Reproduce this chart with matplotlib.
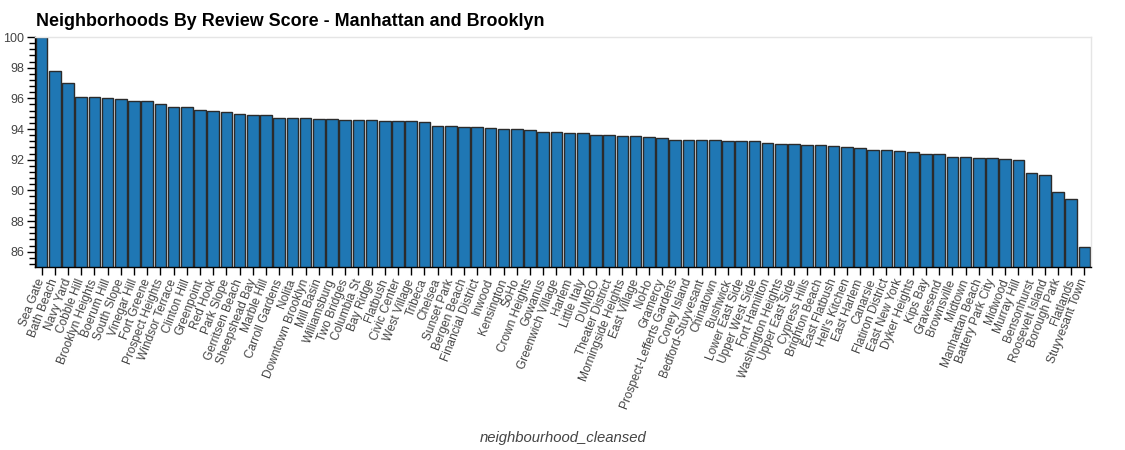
import matplotlib
matplotlib.use('Agg')
import matplotlib.pyplot as plt
from matplotlib.ticker import MultipleLocator
import numpy as np

# Neighbourhoods, sorted by mean review score
neighbourhoods = [
    'Sea Gate', 'Bath Beach', 'Navy Yard', 'Cobble Hill', 'Brooklyn Heights',
    'Boerum Hill', 'South Slope', 'Vinegar Hill', 'Fort Greene', 'Prospect Heights',
    'Windsor Terrace', 'Clinton Hill', 'Greenpoint', 'Red Hook', 'Park Slope',
    'Gerritsen Beach', 'Sheepshead Bay', 'Marble Hill', 'Carroll Gardens', 'Nolita',
    'Downtown Brooklyn', 'Mill Basin', 'Williamsburg', 'Two Bridges', 'Columbia St',
    'Bay Ridge', 'Flatbush', 'Civic Center', 'West Village', 'Tribeca',
    'Chelsea', 'Sunset Park', 'Bergen Beach', 'Financial District', 'Inwood',
    'Kensington', 'SoHo', 'Crown Heights', 'Gowanus', 'Greenwich Village',
    'Harlem', 'Little Italy', 'DUMBO', 'Theater District', 'Morningside Heights',
    'East Village', 'NoHo', 'Gramercy', 'Prospect-Lefferts Gardens', 'Coney Island',
    'Bedford-Stuyvesant', 'Chinatown', 'Bushwick', 'Lower East Side', 'Upper West Side',
    'Fort Hamilton', 'Washington Heights', 'Upper East Side', 'Cypress Hills', 'Brighton Beach',
    'East Flatbush', "Hell's Kitchen", 'East Harlem', 'Canarsie', 'Flatiron District',
    'East New York', 'Dyker Heights', 'Kips Bay', 'Gravesend', 'Brownsville',
    'Midtown', 'Manhattan Beach', 'Battery Park City', 'Midwood', 'Murray Hill',
    'Bensonhurst', 'Roosevelt Island', 'Borough Park', 'Flatlands', 'Stuyvesant Town',
]
scores = [
    100.0, 97.76, 96.98, 96.09, 96.09, 96.02, 95.94, 95.85, 95.83, 95.63,
    95.43, 95.43, 95.22, 95.20, 95.13, 94.98, 94.91, 94.90, 94.74, 94.71,
    94.69, 94.65, 94.65, 94.61, 94.59, 94.56, 94.55, 94.55, 94.52, 94.43,
    94.21, 94.17, 94.15, 94.13, 94.04, 94.03, 94.00, 93.91, 93.82, 93.78,
    93.77, 93.72, 93.61, 93.60, 93.56, 93.52, 93.50, 93.39, 93.30, 93.26,
    93.26, 93.26, 93.22, 93.22, 93.20, 93.11, 93.00, 93.00, 92.96, 92.94,
    92.89, 92.80, 92.76, 92.61, 92.61, 92.58, 92.50, 92.37, 92.35, 92.19,
    92.18, 92.13, 92.09, 92.02, 92.00, 91.15, 91.02, 89.87, 89.43, 86.30,
]

plt.rcParams['font.family'] = ['Liberation Sans', 'DejaVu Sans']

fig = plt.figure(figsize=(11.25, 4.5), dpi=100)
ax = fig.add_subplot(111)
fig.subplots_adjust(left=35/1125, right=1091/1125, top=1-37/450, bottom=1-267/450)

x = np.arange(len(neighbourhoods))
ax.bar(x, scores, width=0.88, color='#1f77b4', edgecolor='#2b2b2b', linewidth=1.0)

ax.set_xlim(-0.5, len(neighbourhoods) - 0.5)
ax.set_ylim(85, 100)

# Axes styling (bokeh-like)
for side in ('top', 'right'):
    ax.spines[side].set_color('#e5e5e5')
    ax.spines[side].set_linewidth(1)
for side in ('left', 'bottom'):
    ax.spines[side].set_color('black')
    ax.spines[side].set_linewidth(1)

ax.yaxis.set_major_locator(MultipleLocator(2))
ax.yaxis.set_minor_locator(MultipleLocator(0.4))
ax.set_yticks(np.arange(86, 101, 2))
ax.tick_params(axis='y', which='major', direction='out', length=6, width=1,
               labelsize=9, labelcolor='#444444', pad=2)
ax.tick_params(axis='y', which='minor', direction='out', length=4, width=1)

ax.set_xticks(x)
ax.set_xticklabels(neighbourhoods, rotation=68.75, ha='right', va='center',
                   rotation_mode='anchor')
ax.tick_params(axis='x', which='major', direction='out', length=6, width=1,
               labelsize=8.6, labelcolor='#444444', pad=3)

ax.set_xlabel('neighbourhood_cleansed', fontsize=10.7, style='italic',
              color='#444444')
ax.xaxis.set_label_coords(0.5, -0.715)

fig.text(36/1125, 1-21/450, 'Neighborhoods By Review Score - Manhattan and Brooklyn',
         fontsize=12.9, fontweight='bold', ha='left', va='center')

fig.savefig('out.png', dpi=100)
